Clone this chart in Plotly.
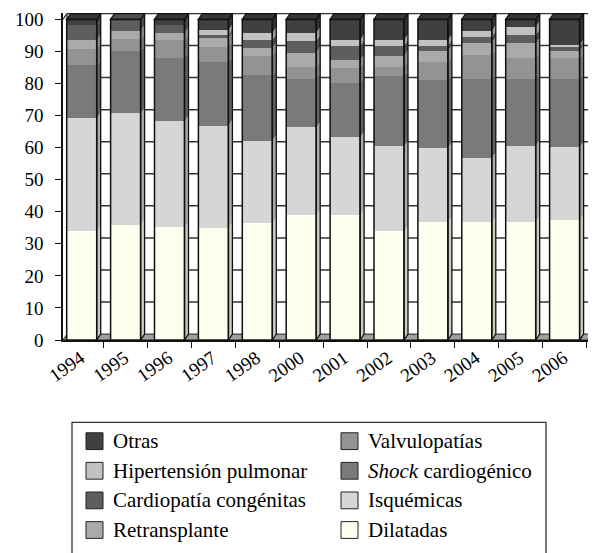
import plotly.graph_objects as go

years = ["1994", "1995", "1996", "1997", "1998", "2000", "2001", "2002",
         "2003", "2004", "2005", "2006"]
dilatadas = [33.9, 36.0, 35.1, 35.0, 36.4, 38.9, 38.9, 33.9, 36.7, 36.7, 36.7, 37.3]
isquemicas = [35.2, 34.7, 33.1, 31.9, 25.8, 27.4, 24.3, 26.5, 23.3, 20.0, 23.9, 22.8]
shock = [16.6, 19.4, 19.9, 19.8, 20.5, 15.2, 17.1, 22.0, 21.1, 24.6, 20.7, 21.2]
valvulopatias = [5.2, 3.7, 5.5, 4.7, 5.9, 3.8, 4.7, 2.8, 5.6, 7.6, 6.8, 6.6]
retransplante = [2.7, 2.6, 2.2, 2.9, 2.6, 4.3, 2.3, 3.4, 3.4, 3.8, 4.4, 2.2]
cardiopatia = [4.6, 3.6, 2.6, 0.8, 2.3, 3.7, 4.4, 3.1, 1.6, 1.8, 2.6, 1.3]
hipertension = [0.0, 0.0, 0.0, 1.6, 2.3, 2.5, 1.9, 1.9, 1.9, 1.9, 2.6, 0.5]
otras = [1.8, 0.0, 1.6, 3.3, 4.2, 4.2, 6.4, 6.4, 6.4, 3.6, 2.3, 8.1]

y_ticks = list(range(0, 101, 10))

# stacking order: bottom -> top
series = [
    ("Dilatadas", "Dilatadas", dilatadas, "#fffff0"),
    ("Isquémicas", "Isquémicas", isquemicas, "#d6d6d6"),
    ("Shock cardiogénico", "<i>Shock</i> cardiogénico", shock, "#7a7a7a"),
    ("Valvulopatías", "Valvulopatías", valvulopatias, "#939393"),
    ("Retransplante", "Retransplante", retransplante, "#aaaaaa"),
    ("Cardiopatía congénitas", "Cardiopatía congénitas", cardiopatia, "#5e5e5e"),
    ("Hipertensión pulmonar", "Hipertensión pulmonar", hipertension, "#c2c2c2"),
    ("Otras", "Otras", otras, "#404040"),
]
# legend layout: (column, row)
legend_pos = {
    "Otras": (0, 0), "Hipertensión pulmonar": (0, 1),
    "Cardiopatía congénitas": (0, 2), "Retransplante": (0, 3),
    "Valvulopatías": (1, 0), "Shock cardiogénico": (1, 1),
    "Isquémicas": (1, 2), "Dilatadas": (1, 3),
}

FONT = "Liberation Serif, Times New Roman, serif"

# page offset (browser body margin) and geometry in screen pixels
OFF = 8
W, H = 596 - OFF, 553 - OFF
L, R = 63 - OFF, 592 - OFF
B, T = 340.5 - OFF, 9.2 - OFF
slot = 43.9
x0c = 81.7 - OFF
bargap = 1 - 30 / slot
xr = [(L - x0c) / slot, (R - x0c) / slot]
ppu = (340.5 - 15.7) / 100.0
yr = [0, (B - T) / ppu]
dx = 4 / slot
dy = 6.0 / ppu
hw = (1 - bargap) / 2


def shade(hexc, f):
    hexc = hexc.lstrip("#")
    r, g, b = (int(hexc[i:i + 2], 16) for i in (0, 2, 4))
    return "#%02x%02x%02x" % (int(r * f), int(g * f), int(b * f))


fig = go.Figure()
for name, label, vals, col in series:
    fig.add_trace(go.Bar(x=years, y=vals, name=name, marker=dict(color=col, line=dict(width=0)),
                         showlegend=False))

shapes = []
# floor
shapes.append(dict(type="path", xref="x", yref="y", layer="below",
                   path=f"M{xr[0]},0 L{xr[1]-dx},0 L{xr[1]},{dy} L{xr[0]+dx},{dy} Z",
                   fillcolor="#a0a0a0", line=dict(color="#222", width=1)))
# back wall gridlines
for v in y_ticks[1:]:
    shapes.append(dict(type="line", xref="x", yref="y", layer="below",
                       x0=xr[0] + dx, x1=xr[1], y0=v + dy, y1=v + dy,
                       line=dict(color="#333", width=1.5)))
# wall edges
shapes.append(dict(type="line", xref="x", yref="y", layer="below",
                   x0=xr[0] + dx, x1=xr[0] + dx, y0=dy, y1=100 + dy,
                   line=dict(color="#222", width=1.2)))
shapes.append(dict(type="line", xref="x", yref="y", layer="below",
                   x0=xr[0], x1=xr[0] + dx, y0=100, y1=100 + dy,
                   line=dict(color="#222", width=1.2)))
shapes.append(dict(type="line", xref="x", yref="y", layer="below",
                   x0=xr[1] - 0.005, x1=xr[1] - 0.005, y0=dy, y1=100 + dy,
                   line=dict(color="#222", width=1.2)))

# 3D faces per bar
for i, yr_ in enumerate(years):
    xl, xrr = i - hw, i + hw
    base = 0.0
    top_col = None
    for name, label, vals, col in series:
        v = vals[i]
        if v <= 0:
            continue
        y0, y1 = base, base + v
        shapes.append(dict(type="path", xref="x", yref="y", layer="above",
                           path=f"M{xrr},{y0} L{xrr+dx},{y0+dy} L{xrr+dx},{y1+dy} L{xrr},{y1} Z",
                           fillcolor=shade(col, 0.8), line=dict(width=0)))
        base = y1
        top_col = col
    # side outline
    shapes.append(dict(type="path", xref="x", yref="y", layer="above",
                       path=f"M{xrr},0 L{xrr+dx},{dy} L{xrr+dx},{base+dy} L{xrr},{base} Z",
                       line=dict(color="#111", width=1.3)))
    # top face
    shapes.append(dict(type="path", xref="x", yref="y", layer="above",
                       path=f"M{xl},{base} L{xrr},{base} L{xrr+dx},{base+dy} L{xl+dx},{base+dy} Z",
                       fillcolor=shade(top_col, 0.85), line=dict(color="#111", width=1.3)))
    # front outline
    shapes.append(dict(type="rect", xref="x", yref="y", layer="above",
                       x0=xl, x1=xrr, y0=0, y1=base,
                       line=dict(color="#111", width=1.5)))


# manual legend (screen pixel positions -> paper)
def px2paper(px, py):
    return (px - OFF - L) / (R - L), (B - (py - OFF)) / (B - T)


bx0, by0 = px2paper(72, 424)
bx1, by1 = px2paper(546, 562)
shapes.append(dict(type="rect", xref="paper", yref="paper", x0=bx0, x1=bx1, y0=by1, y1=by0,
                   line=dict(color="#333", width=1.3), fillcolor="white"))
annotations = []
col_x = [86, 341]
row_y = [443, 473, 503, 533]
for name, label, vals, col in series:
    c, r = legend_pos[name]
    sx0, sy0 = px2paper(col_x[c], row_y[r] - 8.5)
    sx1, sy1 = px2paper(col_x[c] + 17, row_y[r] + 8.5)
    shapes.append(dict(type="rect", xref="paper", yref="paper", x0=sx0, x1=sx1, y0=sy1, y1=sy0,
                       fillcolor=col, line=dict(color="#222", width=1)))
    tx, ty = px2paper(col_x[c] + 25, row_y[r])
    annotations.append(dict(xref="paper", yref="paper", x=tx, y=ty, text=label,
                            showarrow=False, xanchor="left", yanchor="middle",
                            font=dict(family=FONT, size=21, color="black")))

fig.update_layout(
    barmode="stack", bargap=bargap,
    width=W, height=H,
    margin=dict(l=L, r=W - R, t=T, b=H - B, pad=0),
    paper_bgcolor="white", plot_bgcolor="white",
    font=dict(family=FONT, size=19, color="black"),
    shapes=shapes, annotations=annotations, showlegend=False,
    xaxis=dict(range=xr, showgrid=False, showline=True, linecolor="#111", linewidth=1.5,
               ticks="outside", tickson="boundaries", ticklen=6, tickcolor="#111",
               tickangle=-35, tickfont=dict(size=19), ticklabelshift=-1,
               ticklabelstandoff=-2, ticklabeloverflow="allow"),
    yaxis=dict(range=yr, tickvals=y_ticks, showgrid=False, zeroline=False, showline=True,
               linecolor="#111", linewidth=1.5, ticks="outside", ticklen=6, tickcolor="#111",
               tickfont=dict(size=19), ticklabelstandoff=8, ticklabeloverflow="allow"),
)
fig.write_html("out.html")
